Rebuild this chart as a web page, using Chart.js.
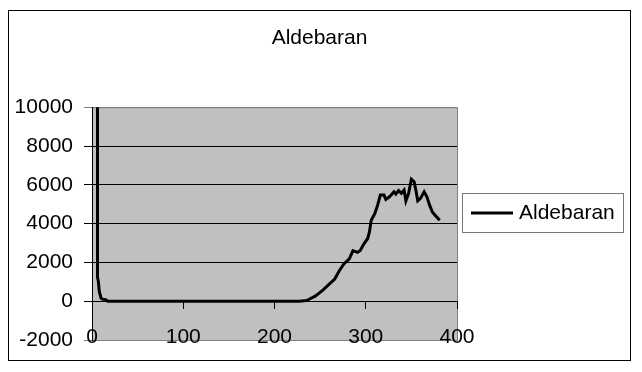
<!DOCTYPE html>
<html>
<head>
<meta charset="utf-8">
<script src="https://cdn.jsdelivr.net/npm/chart.js@4.4.1/dist/chart.umd.min.js"></script>
<style>
  html, body { margin: 0; padding: 0; background: #fff; }
  #wrap { width: 642px; height: 372px; }
</style>
</head>
<body>
<div id="wrap"><canvas id="chart" width="642" height="372"></canvas></div>
<script>
// series (x = day, y = value)
const seriesName = 'Aldebaran';
const xValues = [6, 6, 7, 8, 10, 12, 15, 17, 60, 120, 180, 227, 235, 238, 245, 253, 260, 266, 271, 276, 282, 286, 291, 294, 298, 302, 304, 306, 310, 313, 316, 320, 322, 326, 331, 333, 336, 339, 342, 344, 347, 350, 353, 355, 357, 360, 364, 367, 370, 373, 376, 381];
const yValues = [11000, 1250, 1000, 500, 150, 100, 80, 0, 0, 0, 0, 0, 30, 100, 275, 570, 880, 1140, 1570, 1920, 2180, 2610, 2520, 2610, 2960, 3220, 3560, 4170, 4520, 4950, 5470, 5470, 5250, 5380, 5640, 5520, 5700, 5560, 5730, 5170, 5560, 6290, 6160, 5700, 5170, 5300, 5640, 5380, 4950, 4600, 4430, 4170];
const xTicks = [0, 100, 200, 300, 400];
const yTicks = [-2000, 0, 2000, 4000, 6000, 8000, 10000];

const points = xValues.map((x, i) => ({ x: x, y: yValues[i] }));

Chart.defaults.font.family = "'Liberation Sans', Arial, sans-serif";
Chart.defaults.font.size = 21;
Chart.defaults.color = '#000';

// grey plot area, outer frame and the boxed legend (Excel look)
const excelFrame = {
  id: 'excelFrame',
  beforeDraw(chart) {
    const { ctx, chartArea: a } = chart;
    ctx.save();
    ctx.fillStyle = '#fff';
    ctx.fillRect(0, 0, chart.width, chart.height);
    ctx.fillStyle = '#c0c0c0';
    ctx.fillRect(a.left, a.top, a.right - a.left, a.bottom - a.top);
    ctx.strokeStyle = '#808080';
    ctx.lineWidth = 1;
    ctx.strokeRect(a.left + 0.5, a.top + 0.5, a.right - a.left, a.bottom - a.top);
    ctx.restore();
  },
  afterDraw(chart) {
    const { ctx } = chart;
    ctx.save();
    ctx.strokeStyle = '#000';
    ctx.lineWidth = 1;
    ctx.strokeRect(8.5, 10.5, 622, 350);

    // legend
    ctx.strokeStyle = '#777';
    ctx.strokeRect(462.5, 193.5, 161, 39);
    ctx.strokeStyle = '#000';
    ctx.lineWidth = 3;
    ctx.beginPath();
    ctx.moveTo(471, 213);
    ctx.lineTo(513, 213);
    ctx.stroke();
    ctx.fillStyle = '#000';
    ctx.font = "21px 'Liberation Sans', Arial, sans-serif";
    ctx.textBaseline = 'middle';
    ctx.textAlign = 'left';
    ctx.fillText(chart.data.datasets[0].label, 519, 213);
    ctx.restore();
  }
};

const plain = v => String(v);

new Chart(document.getElementById('chart'), {
  type: 'scatter',
  data: {
    datasets: [{
      label: seriesName,
      data: points,
      showLine: true,
      borderColor: '#000',
      backgroundColor: '#000',
      borderWidth: 3,
      pointRadius: 0,
      tension: 0
    }]
  },
  options: {
    responsive: false,
    animation: false,
    layout: { padding: { left: 8, right: 11, top: 10, bottom: 11 } },
    plugins: {
      legend: { display: false },
      tooltip: { enabled: false },
      title: {
        display: true,
        text: seriesName,
        color: '#000',
        font: { size: 21, weight: 'normal' },
        padding: { top: 16, bottom: 56 }
      }
    },
    scales: {
      x: {
        type: 'linear',
        position: 'bottom',
        min: xTicks[0],
        max: xTicks[xTicks.length - 1],
        ticks: { display: false, stepSize: xTicks[1] - xTicks[0] },
        grid: { display: false, drawTicks: false },
        border: { display: false },
        afterFit(scale) { scale.height = 21; }
      },
      // axis line sits at y = 0, labels hang down to the bottom of the plot
      xAxisLine: {
        type: 'linear',
        axis: 'x',
        position: { y: 0 },
        min: xTicks[0],
        max: xTicks[xTicks.length - 1],
        ticks: { stepSize: xTicks[1] - xTicks[0], padding: 16, maxRotation: 0, autoSkip: false, callback: plain },
        grid: { drawOnChartArea: false, color: '#000', tickLength: 7 },
        border: { color: '#000', width: 1 }
      },
      y: {
        position: 'left',
        min: yTicks[0],
        max: yTicks[yTicks.length - 1],
        ticks: { stepSize: yTicks[1] - yTicks[0], padding: 11, callback: plain },
        grid: {
          color: ctx => (ctx.tick && (ctx.tick.value === yTicks[0] || ctx.tick.value === yTicks[yTicks.length - 1]) && ctx.type === 'tick') ? '#808080' : '#000',
          tickLength: 8
        },
        border: { color: '#000', width: 1 },
        afterFit(scale) { scale.width = 84; }
      },
      legendSpace: {
        type: 'linear',
        axis: 'y',
        position: 'right',
        display: true,
        ticks: { display: false },
        grid: { display: false },
        border: { display: false },
        afterFit(scale) { scale.width = 174; }
      }
    }
  },
  plugins: [excelFrame]
});
</script>
</body>
</html>
